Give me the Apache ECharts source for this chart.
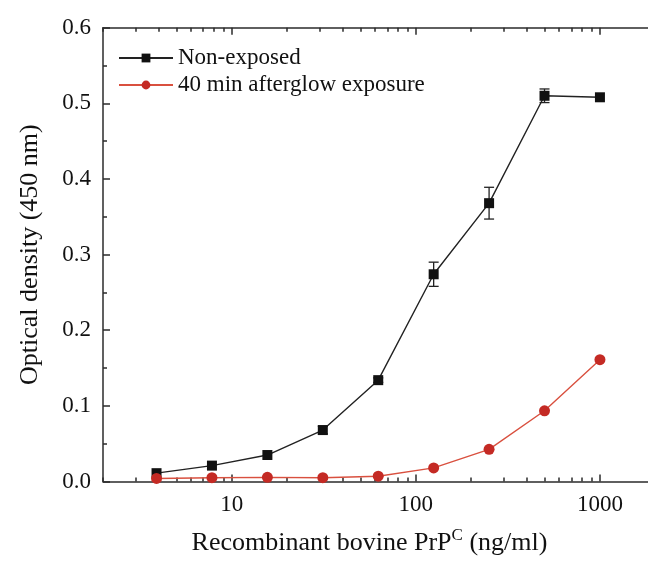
<!DOCTYPE html>
<html>
<head>
<meta charset="utf-8">
<script src="https://cdn.jsdelivr.net/npm/echarts@6/dist/echarts.min.js"></script>
<style>
  html, body { margin: 0; padding: 0; background: #fff; }
  #chart { width: 648px; height: 561px; }
</style>
</head>
<body>
<div id="chart"></div>
<script>
// PrP^C concentrations (two-fold dilution series, ng/ml)
const concentrations = [3.90625, 7.8125, 15.625, 31.25, 62.5, 125, 250, 500, 1000];
// Optical density at 450 nm
const nonExposed = [0.011, 0.021, 0.035, 0.068, 0.134, 0.274, 0.368, 0.510, 0.508];
const nonExposedErr = [0.000, 0.000, 0.000, 0.005, 0.003, 0.016, 0.021, 0.009, 0.000];
const afterglow = [0.004, 0.005, 0.0055, 0.005, 0.007, 0.018, 0.0425, 0.0935, 0.161];
// Axis ticks
const xMajorTicks = [10, 100, 1000];
const xMinorTicks = [2, 3, 4, 5, 6, 7, 8, 9, 20, 30, 40, 50, 60, 70, 80, 90,
                     200, 300, 400, 500, 600, 700, 800, 900];
const yTicks = [0, 0.1, 0.2, 0.3, 0.4, 0.5, 0.6];

const serif = '"Liberation Serif", "DejaVu Serif", serif';
const axisColor = '#2b2b2b';
const black = '#111111';
const redMarker = '#c42a24';
const redLine = '#d9503f';

const pairs = (xs, ys) => xs.map((x, i) => [x, ys[i]]);

const chart = echarts.init(document.getElementById('chart'), null, { renderer: 'canvas' });

const logAxisBase = {
  type: 'log',
  logBase: 10,
  min: 2,
  max: 1824,
  gridIndex: 0,
  splitLine: { show: false }
};

chart.setOption({
  backgroundColor: '#ffffff',
  animation: false,
  grid: { left: 103, right: 0, top: 27.7, bottom: 74.3, containLabel: false },
  legend: {
    orient: 'vertical',
    left: 113,
    top: 41,
    itemWidth: 54,
    itemHeight: 11,
    itemGap: 3,
    textStyle: { fontFamily: serif, fontSize: 23, lineHeight: 24, color: '#111' },
    data: ['Non-exposed', '40 min afterglow exposure']
  },
  xAxis: [
    Object.assign({}, logAxisBase, {
      position: 'bottom',
      name: '{t|Recombinant bovine PrP}{s|C}{t| (ng/ml)}',
      nameLocation: 'middle',
      nameGap: 46,
      nameTextStyle: {
        padding: [0, 12, 0, 0],
        rich: {
          t: { fontFamily: serif, fontSize: 26, color: '#111' },
          s: { fontFamily: serif, fontSize: 17, color: '#111', verticalAlign: 'top', padding: [0, 0, 14, 0] }
        }
      },
      axisLine: { show: true, lineStyle: { color: axisColor, width: 1.5 } },
      axisTick: { show: true, inside: true, length: 7, customValues: xMajorTicks, lineStyle: { color: axisColor, width: 1.5 } },
      axisLabel: {
        show: true, customValues: xMajorTicks, margin: 12,
        fontFamily: serif, fontSize: 23, color: '#111',
        formatter: v => String(Math.round(v))
      }
    }),
    Object.assign({}, logAxisBase, {
      position: 'bottom',
      axisLine: { show: false },
      axisTick: { show: true, inside: true, length: 4, customValues: xMinorTicks, lineStyle: { color: axisColor, width: 1.5 } },
      axisLabel: { show: false }
    }),
    Object.assign({}, logAxisBase, {
      position: 'top',
      axisLine: { show: true, lineStyle: { color: axisColor, width: 1.5 } },
      axisTick: { show: true, inside: true, length: 7, customValues: xMajorTicks, lineStyle: { color: axisColor, width: 1.5 } },
      axisLabel: { show: false }
    }),
    Object.assign({}, logAxisBase, {
      position: 'top',
      axisLine: { show: false },
      axisTick: { show: true, inside: true, length: 4, customValues: xMinorTicks, lineStyle: { color: axisColor, width: 1.5 } },
      axisLabel: { show: false }
    })
  ],
  yAxis: [{
    type: 'value',
    min: 0,
    max: 0.6,
    interval: 0.1,
    name: 'Optical density (450 nm)',
    nameLocation: 'middle',
    nameGap: 60,
    nameTextStyle: { fontFamily: serif, fontSize: 26, color: '#111' },
    splitLine: { show: false },
    axisLine: { show: true, lineStyle: { color: axisColor, width: 1.5 } },
    axisTick: { show: true, inside: true, length: 7, lineStyle: { color: axisColor, width: 1.5 } },
    minorTick: { show: true, splitNumber: 2, length: 4, lineStyle: { color: axisColor, width: 1.5 } },
    axisLabel: {
      margin: 12,
      fontFamily: serif,
      fontSize: 23,
      color: '#111',
      formatter: v => v.toFixed(1)
    }
  }],
  series: [
    {
      name: 'Non-exposed',
      type: 'line',
      xAxisIndex: 0,
      data: pairs(concentrations, nonExposed),
      symbol: 'rect',
      symbolSize: 10,
      itemStyle: { color: black },
      lineStyle: { color: '#222', width: 1.4 },
      z: 3
    },
    {
      name: 'Non-exposed error',
      type: 'custom',
      xAxisIndex: 0,
      data: concentrations.map((x, i) => [x, nonExposed[i] - nonExposedErr[i], nonExposed[i] + nonExposedErr[i]]),
      renderItem: function (params, api) {
        const lo = api.coord([api.value(0), api.value(1)]);
        const hi = api.coord([api.value(0), api.value(2)]);
        if (Math.abs(hi[1] - lo[1]) < 1) return null;
        const cap = 5;
        const style = { stroke: '#222', lineWidth: 1.3 };
        return {
          type: 'group',
          children: [
            { type: 'line', shape: { x1: lo[0], y1: lo[1], x2: hi[0], y2: hi[1] }, style: style },
            { type: 'line', shape: { x1: lo[0] - cap, y1: lo[1], x2: lo[0] + cap, y2: lo[1] }, style: style },
            { type: 'line', shape: { x1: hi[0] - cap, y1: hi[1], x2: hi[0] + cap, y2: hi[1] }, style: style }
          ]
        };
      },
      z: 2
    },
    {
      name: '40 min afterglow exposure',
      type: 'line',
      xAxisIndex: 0,
      data: pairs(concentrations, afterglow),
      symbol: 'circle',
      symbolSize: 11,
      itemStyle: { color: redMarker },
      lineStyle: { color: redLine, width: 1.4 },
      z: 4
    }
  ]
});
</script>
</body>
</html>
